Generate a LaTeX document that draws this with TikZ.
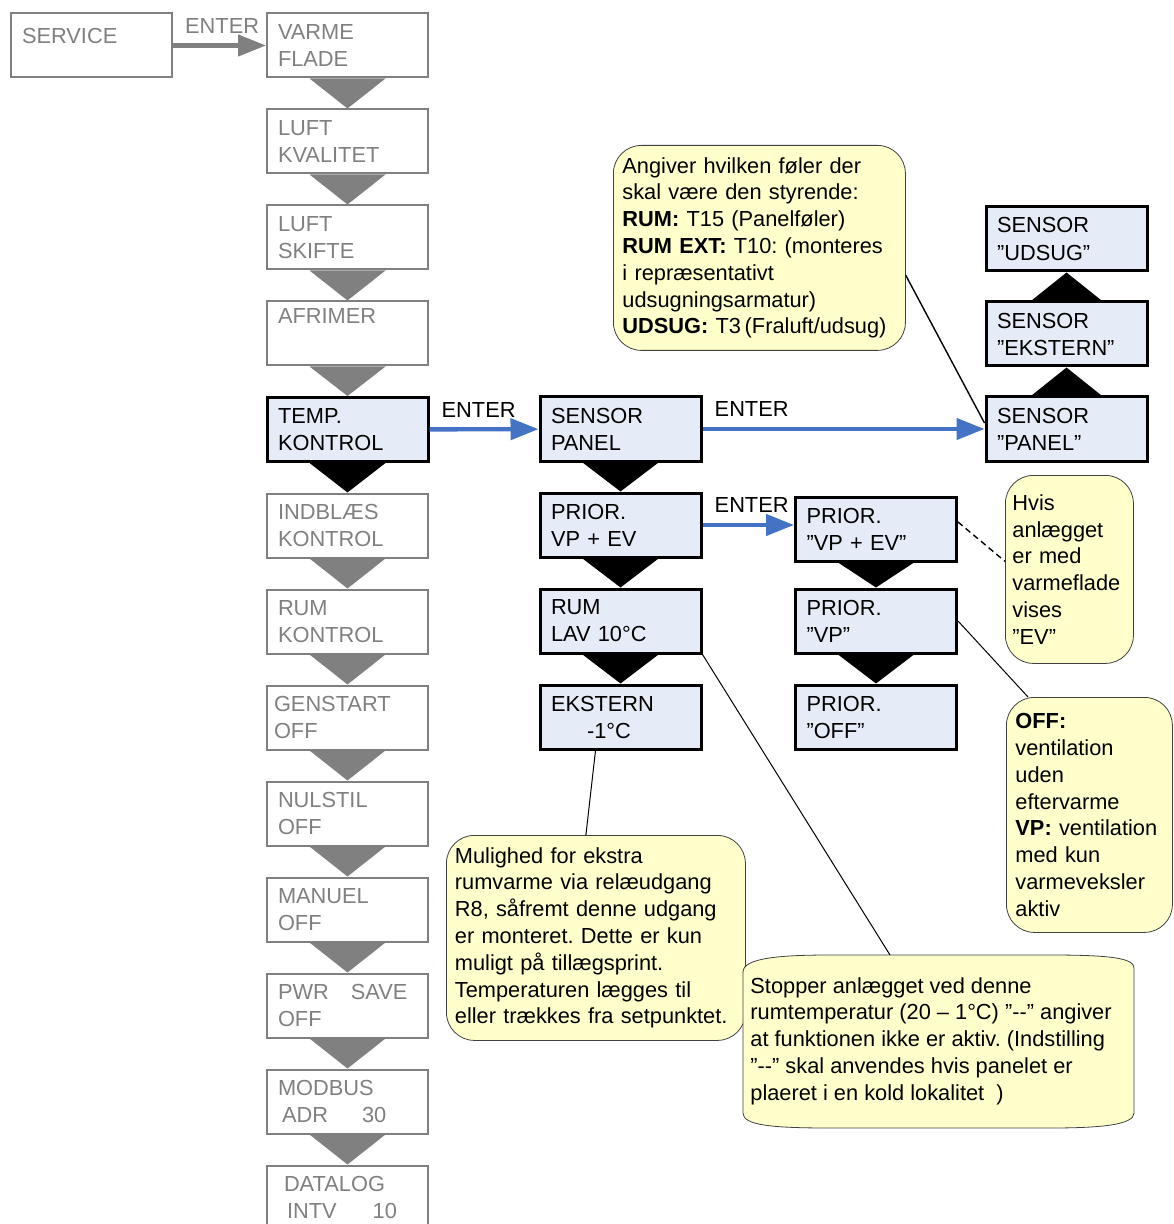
\documentclass[tikz,border=0pt]{standalone}
\usepackage{fontspec}
\setmainfont{Liberation Sans}
\usepackage{tikz}
\usetikzlibrary{shapes, arrows.meta, calc, positioning}

\definecolor{boxfill}{HTML}{E6ECF7}
\definecolor{notefill}{HTML}{FFFFCC}
\definecolor{menugray}{HTML}{808080}
\definecolor{enterblue}{HTML}{4472C4}
\definecolor{noteline}{HTML}{404040}

\begin{document}
\frenchspacing
\begin{tikzpicture}[x=0.5pt, y=-0.5pt, >={Triangle[length=14pt,width=10.5pt]}, node distance=48pt,
	every node/.style={font=\fontsize{10.9pt}{13.5pt}\selectfont}]
	\tikzstyle{menu} = [draw=menugray, line width=1pt, text=menugray, rectangle, minimum width=80.5pt, minimum height=32pt, text width=69.5pt, inner xsep=5.5pt, inner ysep=0pt, align=left]
	\tikzstyle{active} = [menu, draw=black, line width=1.5pt, fill=boxfill, text=black]
	\tikzstyle{note} = [draw=noteline, fill=notefill, rounded corners=14pt, align=left, anchor=north west, font=\fontsize{10.9pt}{13.4pt}\selectfont]
	\tikzstyle{enter} = [line width=2.2pt]
	\tikzstyle{label} = [above right, pos=0, inner sep=5pt, text=black]

	\useasboundingbox (0,0) rectangle (1173,1224);

	% service menu
	\path
		node[menu, text height=8pt, text depth=9.6pt] (serv) at (91.5,45.5) {SERVICE}
		node[menu] (vf) at (347.5,45.5) {VARME\\FLADE}
		node[menu, below of=vf] (lk) {LUFT\\KVALITET}
		node[menu, below of=lk] (ls) {LUFT\\SKIFTE}
		node[menu, below of=ls] (afr) {AFRIMER\\\strut}
		node[active, below of=afr] (tk) {TEMP.\\KONTROL}
		node[menu, below of=tk] (ik) {INDBLÆS\\KONTROL}
		node[menu, below of=ik] (rk) {RUM\\KONTROL}
		node[menu, below of=rk] (gen) {\hspace*{-2pt}GENSTART\\\hspace*{-2pt}OFF}
		node[menu, below of=gen] (nul) {NULSTIL\\OFF}
		node[menu, below of=nul] (man) {MANUEL\\OFF}
		node[menu, below of=man] (pwr) {PWR\hspace{11pt}SAVE\\OFF}
		node[menu, below of=pwr] (mod) {MODBUS\\\hspace*{2pt}ADR\hspace{17pt}30}
		node[menu, below of=mod] (dat) {\hspace*{3pt}DATALOG\\\hspace*{4.5pt}INTV\hspace{18pt}10}
	;

	% temp. kontrol
	\path
		node[active] (sp) at (620.5,429) {SENSOR\\PANEL}
		node[active, below of=sp] (pv) {PRIOR.\\VP + EV}
		node[active, below of=pv] (rum) {RUM\\LAV 10°C}
		node[active, below of=rum] (eks) {EKSTERN\\\hspace*{18pt}-1°C}

		node[active] (pq) at (876,529) {PRIOR.\\”VP + EV”}
		node[active, below of=pq, node distance=46pt] (pvp) {PRIOR.\\”VP”}
		node[active, below of=pvp, node distance=48pt] (poff) {PRIOR.\\”OFF”}

		node[active] (spanel) at (1066.5,429) {SENSOR\\”PANEL”}
		node[active, above of=spanel, node distance=47.5pt] (sekst) {SENSOR\\”EKSTERN”}
		node[active, above of=sekst, node distance=47.5pt] (sudsug) {SENSOR\\”UDSUG”}
	;

	% next-arrows
	\foreach \a/\b in {vf/lk, lk/ls, ls/afr, afr/tk, ik/rk, rk/gen, gen/nul, nul/man, man/pwr, pwr/mod, mod/dat}
		\fill[menugray] ($(\a.south)+(-38,0)$) -- ($(\a.south)+(38,0)$) -- (\b.north) -- cycle;
	\foreach \a/\b in {tk/ik, sp/pv, pv/rum, rum/eks, pq/pvp, pvp/poff}
		\fill[black] ($(\a.south)+(-38,0)$) -- ($(\a.south)+(38,0)$) -- (\b.north) -- cycle;
	\foreach \a/\b in {spanel/sekst, sekst/sudsug}
		\fill[black] ($(\a.north)+(-35,0)$) -- ($(\a.north)+(35,0)$) -- (\b.south) -- cycle;

	% enter
	\path[->, enter]
		(serv) edge[menugray] node[label, text=menugray] {ENTER} (vf)
		(tk) edge[enterblue] node[label] {ENTER} (sp)
		(sp) edge[enterblue] node[label] {ENTER} (spanel)
		(pv.east) edge[enterblue] node[label] {ENTER} (pv.east -| pq.west)
	;

	% notes
	\node[note, minimum width=146pt, minimum height=102.5pt, text width=137pt, inner xsep=4.5pt] (angiv) at (613,145)
		{Angiver hvilken føler der\\skal være den styrende:\\\textbf{RUM:} T15 (Panelføler)\\\textbf{RUM EXT:} T10: (monteres\\i repræsentativt\\udsugningsarmatur)\\\textbf{UDSUG:} T3\,(Fraluft/udsug)};
	\node[note, minimum width=64pt, minimum height=94pt, text width=57pt, inner xsep=3.5pt] (hvis) at (1005,475)
		{Hvis\\anlægget\\er med\\varmeflade\\vises\\”EV”};
	\node[note, minimum width=83pt, minimum height=117.5pt, text width=74pt, inner xsep=4.5pt] (off) at (1006,697)
		{\textbf{OFF:}\\ventilation\\uden\\eftervarme\\\textbf{VP:} ventilation\\med kun\\varmeveksler\\aktiv};
	\node[note, minimum width=149.5pt, minimum height=102.5pt, text width=141pt, inner xsep=4.25pt] (mul) at (446,835)
		{Mulighed for ekstra\\rumvarme via relæudgang\\R8, såfremt denne udgang\\er monteret. Dette er kun\\muligt på tillægsprint.\\Temperaturen lægges til\\eller trækkes fra setpunktet.};

	\filldraw[draw=noteline, fill=notefill]
		(743,1113) -- (743,972) .. controls (743,958) and (780,955) .. (830,955) -- (1050,955)
		.. controls (1110,955) and (1134,958) .. (1134,968) -- (1134,1113)
		.. controls (1134,1125) and (1100,1128) .. (1050,1128) -- (830,1128)
		.. controls (770,1128) and (743,1125) .. (743,1113) -- cycle;
	\coordinate (stoptop) at (890,955);
	\node[align=left, anchor=west, inner sep=0pt, font=\fontsize{10.9pt}{13.4pt}\selectfont] (stop) at (750,1041)
		{Stopper anlægget ved denne\\rumtemperatur (20 – 1°C) ”-\kern0pt-” angiver\\at funktionen ikke er aktiv. (Indstilling\\”-\kern0pt-” skal anvendes hvis panelet er\\plaeret i en kold lokalitet\ \ )};

	% pointers
	\draw[line width=0.7pt] ([yshift=-13.75pt]angiv.east) -- ([yshift=3pt]spanel.west);
	\draw[line width=0.7pt, densely dashed] ([yshift=3.5pt]pq.east) -- ([yshift=4pt]hvis.west);
	\draw[line width=0.5pt] (pvp.east) -- ($(off.north west)+(22,0)$);
	\draw[line width=0.5pt] (rum.south east) -- (stoptop);
	\draw[line width=0.5pt] ($(eks.south)+(-25,0)$) -- ($(mul.north)+(-10,0)$);
\end{tikzpicture}
\end{document}
